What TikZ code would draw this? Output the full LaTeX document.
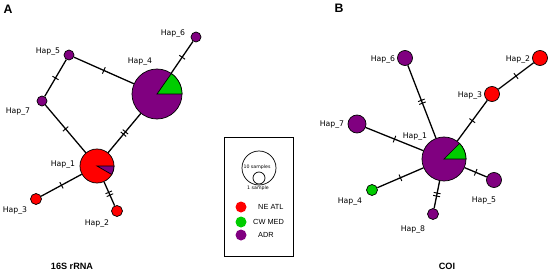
\documentclass[tikz,border=0pt]{standalone}
\usepackage{fontspec}
\setmainfont{DejaVu Sans}
\newfontfamily\arialfont{Liberation Sans}
\usetikzlibrary{decorations.markings}
\definecolor{neatl}{HTML}{FF0000}
\definecolor{cwmed}{HTML}{00CC00}
\definecolor{adr}{HTML}{800080}
\tikzset{
	hnode/.style={circle, draw=black, line width=0.6pt, inner sep=0pt, minimum size=#1},
	hlabel/.style={font=\fontsize{6.6}{7}\selectfont, inner sep=0pt},
	hlink/.style={line width=1.1pt, draw=black},
	onetick/.style={postaction={decorate, decoration={markings,
		mark=at position 0.5 with {\draw[line width=0.8pt] (0,-3pt) -- (0,3pt);}}}},
	twoticks/.style={postaction={decorate, decoration={markings,
		mark=at position 0.5 with {\draw[line width=0.8pt] (-1.3pt,-3pt) -- (-1.3pt,3pt) (1.3pt,-3pt) -- (1.3pt,3pt);}}}},
	ptitle/.style={font=\arialfont\bfseries\fontsize{7.8}{9}\selectfont, inner sep=0pt},
	plabel/.style={font=\arialfont\bfseries\fontsize{10.5}{12}\selectfont, inner sep=0pt},
	legtext/.style={font=\arialfont\fontsize{6.3}{7}\selectfont, inner sep=0pt, anchor=west}
}

\begin{document}
\begin{tikzpicture}[x=0.03cm, y=0.03cm]
	\useasboundingbox (0,0) rectangle (550,273);
	\node[plabel] at (8,264) {A};
	\node[plabel] at (339,265) {B};
	\node[ptitle] at (72,7) {16S rRNA};
	\node[ptitle] at (447,7) {COI};
	\node[hnode=1.5cm, fill=adr] (a4) at (157,179) {};
	\filldraw[fill=cwmed, line width=0.6pt] (a4.center) -- ++(0:0.75cm) arc[start angle=0, end angle=55, radius=0.75cm] -- cycle;
	\node[hnode=1.02cm, fill=neatl] (a1) at (97,107) {};
	\filldraw[fill=adr, line width=0.6pt] (a1.center) -- ++(0:0.51cm) arc[start angle=0, end angle=-30, radius=0.51cm] -- cycle;
	\node[hnode=0.3cm, fill=adr] (a6) at (196,236) {};
	\node[hnode=0.3cm, fill=adr] (a5) at (69,218) {};
	\node[hnode=0.3cm, fill=adr] (a7) at (42,172) {};
	\node[hnode=0.33cm, fill=neatl] (a3) at (36,74) {};
	\node[hnode=0.33cm, fill=neatl] (a2) at (117,62) {};
	\node[hlabel] at (173,239) {Hap\_6};
	\node[hlabel] at (48,221) {Hap\_5};
	\node[hlabel] at (140,211) {Hap\_4};
	\node[hlabel] at (18,161) {Hap\_7};
	\node[hlabel] at (63,108) {Hap\_1};
	\node[hlabel] at (15,62) {Hap\_3};
	\node[hlabel] at (97,49) {Hap\_2};
	\draw[hlink, onetick] (a5) -- (a4);
	\draw[hlink, onetick] (a5) -- (a7);
	\draw[hlink, onetick] (a7) -- (a1);
	\draw[hlink, twoticks] (a4) -- (a1);
	\draw[hlink, onetick] (a4) -- (a6);
	\draw[hlink, onetick] (a1) -- (a3);
	\draw[hlink, twoticks] (a1) -- (a2);
	\node[hnode=1.32cm, fill=adr] (b1) at (444,114) {};
	\filldraw[fill=cwmed, line width=0.6pt] (b1.center) -- ++(0:0.66cm) arc[start angle=0, end angle=45, radius=0.66cm] -- cycle;
	\node[hnode=0.45cm, fill=adr] (b6) at (405,215) {};
	\node[hnode=0.45cm, fill=neatl] (b2) at (540,215) {};
	\node[hnode=0.45cm, fill=neatl] (b3) at (492,179) {};
	\node[hnode=0.54cm, fill=adr] (b7) at (357,149) {};
	\node[hnode=0.45cm, fill=adr] (b5) at (494,93) {};
	\node[hnode=0.33cm, fill=cwmed] (b4) at (372,83) {};
	\node[hnode=0.33cm, fill=adr] (b8) at (433,59) {};
	\node[hlabel] at (383,213) {Hap\_6};
	\node[hlabel] at (518,213) {Hap\_2};
	\node[hlabel] at (470,177) {Hap\_3};
	\node[hlabel] at (332,148) {Hap\_7};
	\node[hlabel] at (415,136) {Hap\_1};
	\node[hlabel] at (350,71) {Hap\_4};
	\node[hlabel] at (484,72) {Hap\_5};
	\node[hlabel] at (413,43) {Hap\_8};
	\draw[hlink, twoticks] (b1) -- (b6);
	\draw[hlink, onetick] (b3) -- (b2);
	\draw[hlink, onetick] (b1) -- (b3);
	\draw[hlink, onetick] (b1) -- (b7);
	\draw[hlink, onetick] (b1) -- (b4);
	\draw[hlink, twoticks] (b1) -- (b8);
	\draw[hlink, onetick] (b1) -- (b5);
	\node[draw=black, line width=0.6pt, minimum width=2.07cm, minimum height=3.57cm, inner sep=0pt] (legend) at (258.5,76.5) {};
	\node[hnode=1.02cm] (big) at (259,105) {};
	\node[hnode=0.36cm] (small) at (259,95) {};
	\node[inner sep=0pt, font=\fontsize{4}{5}\selectfont] at (257,106) {10 samples};
	\node[inner sep=0pt, font=\fontsize{4}{5}\selectfont] at (258,85) {1 sample};
	\node[hnode=0.33cm, draw=none, fill=neatl] (kred) at (241,66) {};
	\node[hnode=0.33cm, draw=none, fill=cwmed] (kgreen) at (241,51) {};
	\node[hnode=0.33cm, draw=none, fill=adr] (kpurple) at (241,38) {};
	\node[legtext] at (258,66) {NE ATL};
	\node[legtext] at (253,51) {CW MED};
	\node[legtext] at (258,38) {ADR};
\end{tikzpicture}
\end{document}
